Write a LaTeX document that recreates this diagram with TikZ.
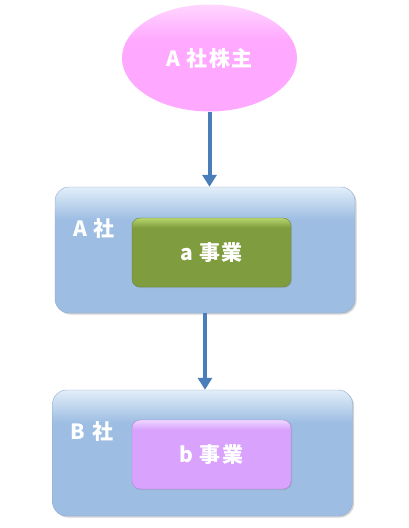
\documentclass[tikz,border=0pt]{standalone}
\usepackage{fontspec}
\newfontfamily\jpfont[LetterSpace=8]{Noto Sans CJK JP}
\usetikzlibrary{positioning}
\usetikzlibrary{shapes.geometric}
\usetikzlibrary{shadows}
\usetikzlibrary{arrows.meta}
\definecolor{HolderPink}{HTML}{FFA8FF}
\definecolor{HolderTop}{HTML}{FFD6FF}
\definecolor{CompanyBlue}{HTML}{9DBDE2}
\definecolor{CompanyTop}{HTML}{E2EEF9}
\definecolor{CompanyEdge}{HTML}{8EAAD0}
\definecolor{GreenBody}{HTML}{7F9C3F}
\definecolor{GreenTop}{HTML}{B8D66C}
\definecolor{GreenEdge}{HTML}{6A8433}
\definecolor{PurpleBody}{HTML}{D8A2FD}
\definecolor{PurpleTop}{HTML}{EFD6FF}
\definecolor{PurpleEdge}{HTML}{B286D6}
\definecolor{LinkBlue}{HTML}{4A7EBB}
% soft bands of light on top of every shape
\pgfdeclareverticalshading{holdershade}{100bp}{color(0bp)=(HolderPink); color(58bp)=(HolderPink); color(75bp)=(HolderTop); color(100bp)=(HolderTop)}
\pgfdeclareverticalshading{companyshade}{100bp}{color(0bp)=(CompanyBlue); color(62bp)=(CompanyBlue); color(75bp)=(CompanyTop); color(100bp)=(CompanyTop)}
\pgfdeclareverticalshading{greenshade}{100bp}{color(0bp)=(GreenEdge); color(27bp)=(GreenBody); color(68bp)=(GreenBody); color(75bp)=(GreenTop); color(100bp)=(GreenTop)}
\pgfdeclareverticalshading{purpleshade}{100bp}{color(0bp)=(PurpleEdge); color(27bp)=(PurpleBody); color(68bp)=(PurpleBody); color(75bp)=(PurpleTop); color(100bp)=(PurpleTop)}
\tikzset{
  % white labels in a gothic face
  label text/.style={font=\jpfont\bfseries\fontsize{21}{24}\selectfont,text=white,inner sep=0pt},
  every shadow/.style={opacity=.35,shadow xshift=1.5pt,shadow yshift=-1.5pt},
  holder/.style={ellipse,label text,minimum width=175pt,minimum height=107pt,shading=holdershade},
  company/.style={rounded corners=14pt,minimum width=300pt,minimum height=126pt,
    shading=companyshade,draw=CompanyEdge,thin,drop shadow},
  business/.style={label text,rounded corners=8pt,minimum width=159pt,minimum height=69pt,
    shading=#1shade,drop shadow={opacity=.25,shadow xshift=1pt,shadow yshift=-1pt}},
  link/.style={-{Triangle[length=12pt,width=14pt]},line width=4pt,draw=LinkBlue},
}
\begin{document}
\begin{tikzpicture}[x=1pt,y=-1pt]
  \useasboundingbox (0,0) rectangle (408,528);
  \node[holder] (holder) at (209.5,58) {A 社株主};

  \node[company] (compA) at (205,250) {};
  \node[label text] (nameA) at (94,229) {A 社};
  \node[business=green,draw=GreenEdge] (busA) at (211.5,252.5) {a 事業};

  \node[company] (compB) at (202.5,453) {};
  \node[label text] (nameB) at (92,432) {B 社};
  \node[business=purple,draw=PurpleEdge] (busB) at (211.5,454.5) {b 事業};

  \draw[link] (holder.south) -- (holder.south |- compA.north);
  \draw[link] (compA.south) -- (compA.south |- compB.north);
\end{tikzpicture}
\end{document}
